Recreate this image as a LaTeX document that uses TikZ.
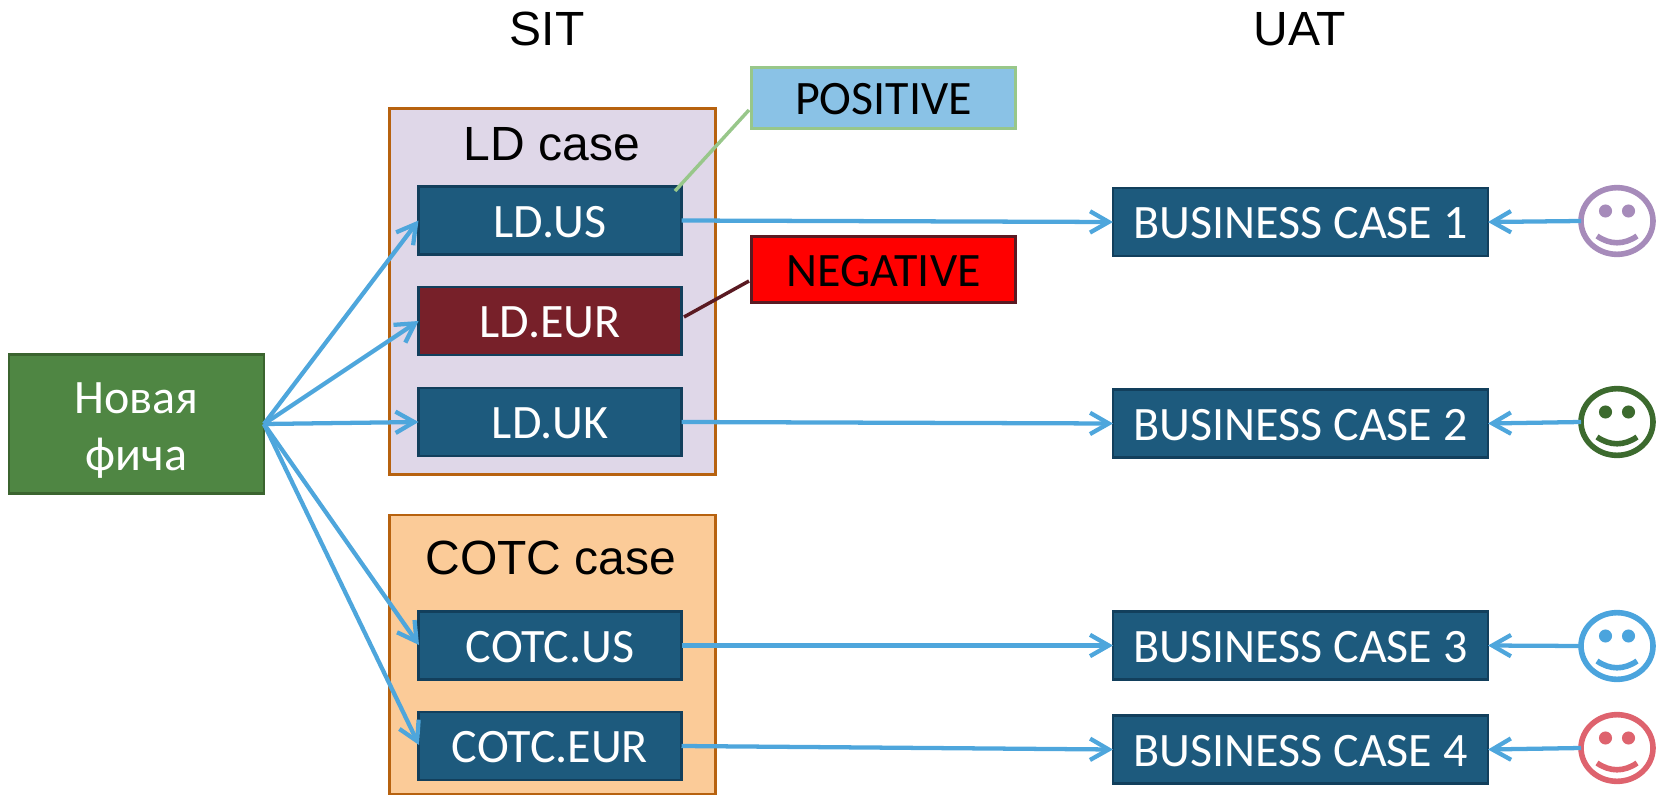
\documentclass[tikz,border=0pt]{standalone}
\usepackage{fontspec}
\setmainfont{Carlito}
\newfontfamily\arialfont{Liberation Sans}
\usetikzlibrary{arrows.meta,shapes.geometric}
\definecolor{arrowblue}{HTML}{4EA6DC}
\definecolor{boxblue}{HTML}{1D5A7D}
\definecolor{boxblueline}{HTML}{123F5C}
\definecolor{newgreen}{HTML}{4F8643}
\definecolor{newgreenline}{HTML}{3B642F}
\definecolor{ldfill}{HTML}{DFD7E8}
\definecolor{cotcfill}{HTML}{FBCB98}
\definecolor{grpline}{HTML}{B7620F}
\definecolor{winebox}{HTML}{772029}
\definecolor{posfill}{HTML}{8AC2E6}
\definecolor{posline}{HTML}{98C78A}
\definecolor{negline}{HTML}{5A1A22}
\definecolor{smpurple}{HTML}{A68BBA}
\definecolor{smgreen}{HTML}{3C6A2E}
\definecolor{smblue}{HTML}{4BA4DD}
\definecolor{smred}{HTML}{DE636E}
\tikzset{
  x=0.75pt,y=-0.75pt,
  sized/.style 2 args={minimum width=#1*0.75pt,minimum height=#2*0.75pt,inner sep=0pt,outer sep=0pt,rectangle},
  bluebox/.style={draw=boxblueline,fill=boxblue,line width=2.2pt,text=white,font=\fontsize{36}{40}\selectfont,text height=25pt,text depth=0pt,sized={263}{68}},
  winecase/.style={bluebox,fill=winebox},
  bizbox/.style={bluebox,sized={375}{68}},
  grp/.style={draw=grpline,line width=2.2pt,inner sep=0pt,outer sep=0pt,rectangle},
  heading/.style={font=\arialfont\fontsize{36}{40}\selectfont,text=black,inner sep=0pt},
  flow/.style={draw=arrowblue,line width=3.2pt,-{Straight Barb[length=14pt,width=16pt,line width=3.2pt]}},
  smiley/.style={ellipse,draw=#1,line width=4.2pt,minimum width=54pt,minimum height=50pt,inner sep=0pt,outer sep=0pt,fill=white},
}
\newcommand{\smileface}[2]{%
  \fill[#2] ([shift={(-11.5,-10)}]#1.center) circle (4.9pt);
  \fill[#2] ([shift={(11.5,-10)}]#1.center) circle (4.9pt);
  \draw[#2,line width=4.2pt] ([shift={(-20,15)}]#1.center) .. controls ([shift={(-7,24)}]#1.center) and ([shift={(7,24)}]#1.center) .. ([shift={(20,15)}]#1.center);
}
\begin{document}
\begin{tikzpicture}
\useasboundingbox (0,0) rectangle (1656,795);
% groups
\node[grp,fill=ldfill,sized={326}{366}] (ldgrp) at (552.5,291.5) {};
\node[grp,fill=cotcfill,sized={326}{279}] (cotcgrp) at (552.5,654.5) {};
\node[heading] (ldtitle) at (552,150) {\strut LD case};
\node[heading] (cotctitle) at (551,564) {\strut COTC case};
\node[heading] (sit) at (547,35) {\strut SIT};
\node[heading] (uat) at (1300,35) {\strut UAT};
% source
\node[draw=newgreenline,fill=newgreen,line width=2.2pt,sized={255}{139},text=white,align=center,font=\fontsize{36}{43}\selectfont] (fea) at (136.5,424) {\rule{0pt}{32.5pt}Новая\\фича};
% test cases
\node[bluebox] (ldus) at (550,220.5) {LD.US};
\node[winecase] (ldeur) at (550,321) {LD.EUR};
\node[bluebox] (lduk) at (550,422) {LD.UK};
\node[bluebox] (cotcus) at (550,645.5) {COTC.US};
\node[bluebox] (cotceur) at (550,746) {COTC.EUR};
% business cases
\node[bizbox] (bc1) at (1300.5,222) {BUSINESS CASE 1};
\node[bizbox] (bc2) at (1300.5,423.5) {BUSINESS CASE 2};
\node[bizbox] (bc3) at (1300.5,645.5) {BUSINESS CASE 3};
\node[bizbox] (bc4) at (1300.5,749.5) {BUSINESS CASE 4};
% labels
\node[draw=posline,fill=posfill,line width=2.2pt,sized={264}{61},font=\fontsize{36}{40}\selectfont,text height=25pt,text depth=0pt] (pos) at (883.5,98) {POSITIVE};
\node[draw=negline,fill=red,line width=2.2pt,sized={264}{66},font=\fontsize{36}{40}\selectfont,text height=25pt,text depth=0pt] (neg) at (883.5,269.5) {NEGATIVE};
% smileys
\node[smiley=smpurple] (s1) at (1617,221) {};
\node[smiley=smgreen] (s2) at (1617,422) {};
\node[smiley=smblue] (s3) at (1617,646) {};
\node[smiley=smred] (s4) at (1617,748) {};
\smileface{s1}{smpurple}
\smileface{s2}{smgreen}
\smileface{s3}{smblue}
\smileface{s4}{smred}
% connector anchors
\coordinate (posa) at (749,110);
\coordinate (posb) at (675,191);
\coordinate (nega) at (749,281);
\coordinate (negb) at (684,317);
\coordinate (fe) at (264,424);
\coordinate (cuw) at (419,645);
\coordinate (cew) at (419,745);
% connectors
\draw[posline,line width=2.6pt] (posa) -- (posb);
\draw[negline,line width=2.6pt] (nega) -- (negb);
\draw[flow] (fe) -- (ldus.west);
\draw[flow] (fe) -- (ldeur.west);
\draw[flow] (fe) -- (lduk.west);
\draw[flow] (fe) -- (cuw);
\draw[flow] (fe) -- (cew);
\draw[flow] (ldus.east) -- (bc1.west);
\draw[flow] (lduk.east) -- (bc2.west);
\draw[flow] (cotcus.east) -- (bc3.west);
\draw[flow] (cotceur.east) -- (bc4.west);
\draw[flow] (s1.west) -- (bc1.east);
\draw[flow] (s2.west) -- (bc2.east);
\draw[flow] (s3.west) -- (bc3.east);
\draw[flow] (s4.west) -- (bc4.east);
\end{tikzpicture}
\end{document}
